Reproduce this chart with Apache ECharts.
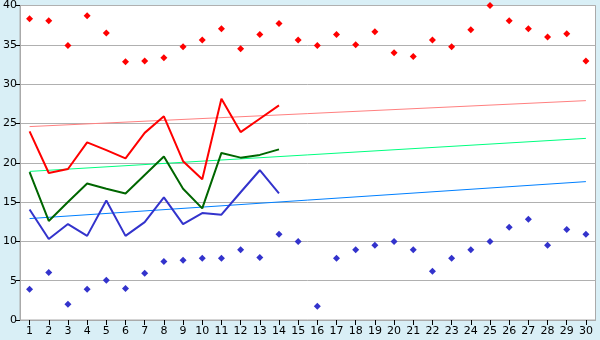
<!DOCTYPE html>
<html><head><meta charset="utf-8">
<script src="https://cdn.jsdelivr.net/npm/echarts@6/dist/echarts.min.js"></script>
<style>html,body{margin:0;padding:0;background:#d9eff6}#c{width:600px;height:340px}</style>
</head><body><div id="c"></div>
<script>
var days = ['1','2','3','4','5','6','7','8','9','10','11','12','13','14','15','16','17','18','19','20','21','22','23','24','25','26','27','28','29','30'];
var maxPoints = [38.3,38.05,34.9,38.7,36.5,32.85,32.95,33.35,34.75,35.6,37.05,34.5,36.3,37.7,35.6,34.9,36.3,35.0,36.65,34.0,33.5,35.6,34.75,36.9,40.0,38.05,37.05,36.0,36.4,32.95];
var minPoints = [3.9,6.05,2.0,3.9,5.05,4.0,5.95,7.45,7.6,7.85,7.85,8.95,7.95,10.9,10.0,1.75,7.85,8.95,9.5,10.0,8.95,6.2,7.85,8.95,10.0,11.8,12.8,9.5,11.5,10.9];
var redLine = [24.0,18.7,19.2,22.6,21.6,20.55,23.8,25.9,20.2,17.9,28.15,23.9,25.6,27.3];
var greenLine = [18.8,12.6,15.0,17.35,16.7,16.1,18.45,20.8,16.7,14.2,21.25,20.65,21.0,21.7];
var blueLine = [14.05,10.3,12.2,10.7,15.2,10.7,12.45,15.6,12.2,13.6,13.4,16.25,19.05,16.1];
var redTrend = [24.6,27.9];
var greenTrend = [18.9,23.1];
var blueTrend = [12.9,17.6];
var yTicks = {min:0,max:40,interval:5};

function trend(v){return [[days[0],v[0]],[days[days.length-1],v[1]]];}
var font = 'DejaVu Sans';
var chart = echarts.init(document.getElementById('c'),null,{renderer:'canvas'});
chart.setOption({
  backgroundColor:'#d9eff6',
  animation:false,
  grid:{left:20,right:4.5,top:5,bottom:20,show:true,backgroundColor:'#ffffff',borderColor:'#aaaaaa',borderWidth:1},
  xAxis:{type:'category',data:days,boundaryGap:true,
    axisLine:{show:true,lineStyle:{color:'#aaaaaa'}},
    axisTick:{show:true,alignWithLabel:true,length:5,lineStyle:{color:'#000'}},
    axisLabel:{color:'#000',fontSize:11,fontFamily:font,margin:6,interval:0},
    splitLine:{show:false}},
  yAxis:{type:'value',min:yTicks.min,max:yTicks.max,interval:yTicks.interval,
    axisLine:{show:true,lineStyle:{color:'#aaaaaa'}},
    axisTick:{show:true,length:4,lineStyle:{color:'#000'}},
    axisLabel:{color:'#000',fontSize:11,fontFamily:font,margin:3},
    splitLine:{show:true,lineStyle:{color:'#b0b0b0',width:1}}},
  series:[
    {type:'line',data:trend(redTrend),symbol:'none',lineStyle:{color:'#ff8080',width:1},z:1},
    {type:'line',data:trend(greenTrend),symbol:'none',lineStyle:{color:'#00ff80',width:1},z:1},
    {type:'line',data:trend(blueTrend),symbol:'none',lineStyle:{color:'#0080ff',width:1},z:1},
    {type:'line',data:redLine,symbol:'none',lineStyle:{color:'#ff0000',width:2},z:3},
    {type:'line',data:greenLine,symbol:'none',lineStyle:{color:'#006600',width:2},z:3},
    {type:'line',data:blueLine,symbol:'none',lineStyle:{color:'#3333cc',width:2},z:3},
    {type:'scatter',data:maxPoints,symbol:'diamond',symbolSize:7,itemStyle:{color:'#ff0000',opacity:1},z:4},
    {type:'scatter',data:minPoints,symbol:'diamond',symbolSize:7,itemStyle:{color:'#3333cc',opacity:1},z:4}
  ]
});
</script></body></html>
